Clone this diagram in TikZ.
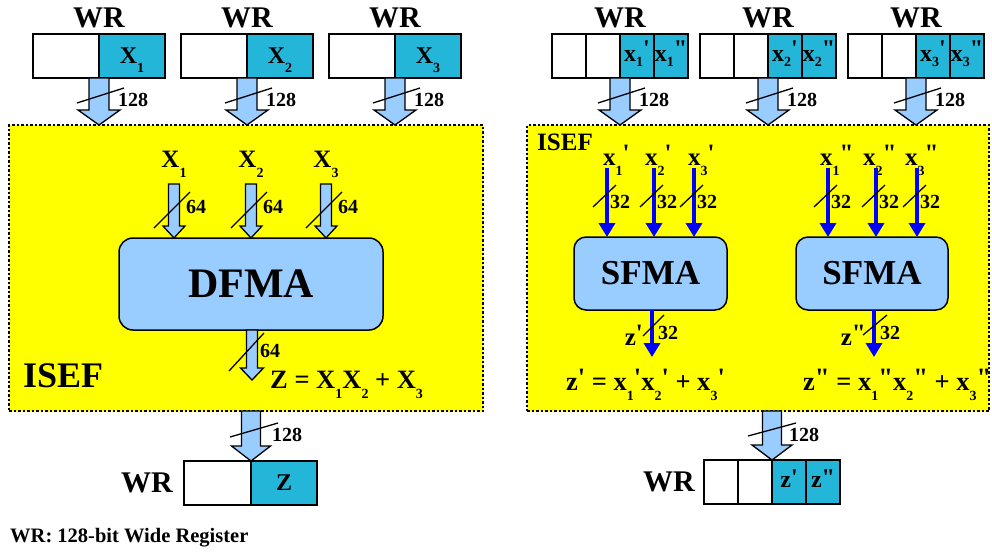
\documentclass[tikz,border=0pt]{standalone}
\usepackage{fontspec}
\setmainfont{Liberation Serif}
\usetikzlibrary{calc,arrows.meta}
\definecolor{wrcyan}{RGB}{35,182,217}
\definecolor{fab}{HTML}{99CCFF}
\definecolor{ysef}{HTML}{FFFF00}
\newcommand\fs[1]{\fontsize{#1}{#1}\selectfont\bfseries}
\newcommand\sbs[2][10]{\smash{\raisebox{-#1pt}{\fontsize{14}{14}\selectfont\bfseries #2}}}
\newcommand\pr[1][4]{\smash{\raisebox{#1pt}{\textquotesingle}}}
\newcommand\dpr[1][4]{\smash{\raisebox{#1pt}{\textquotedbl}}}
\newcommand\fatarrow[5]{%
  \filldraw[fatarr] let \p1=(#1), \p2=(#2) in
   (\x1-#3pt,\y1) -- (\x1+#3pt,\y1) -- (\x1+#3pt,\y2+#5pt) -- (\x1+#4pt,\y2+#5pt)
   -- (\x1,\y2) -- (\x1-#4pt,\y2+#5pt) -- (\x1-#3pt,\y2+#5pt) -- cycle;}
\newcommand\busmark[5]{%
  \draw[slash] ($(#1)+(#2)$) -- ($(#1)+(#3)$);
  \node[buslab] at ($(#1)+(#4)$) {#5};}
\begin{document}
\begin{tikzpicture}[x=1pt,y=-1pt,
  cell/.style={draw,line width=1.4pt,rectangle,minimum height=44pt,inner sep=0pt,outer sep=0pt,font=\fs{24}},
  cyancell/.style={cell,fill=wrcyan},
  wrlab/.style={font=\fs{30},inner sep=0pt},
  fatarr/.style={draw=black,fill=fab,line width=1.3pt,line join=miter},
  slash/.style={line width=1.3pt},
  buslab/.style={inner sep=0pt,anchor=base west,font=\fs{20}},
  isef/.style={draw,dash pattern=on 2.5pt off 2pt,line width=1.3pt,fill=ysef,inner sep=0pt,outer sep=0pt,minimum height=286pt},
  fma/.style={draw,line width=1.5pt,fill=fab,rounded corners=14pt,inner sep=0pt,outer sep=0pt},
  bluearr/.style={draw=blue,line width=4pt,-{Triangle[length=14pt,width=16pt]}},
  lab/.style={inner sep=0pt,font=\fs{25}},
  eqn/.style={inner sep=0pt,font=\fs{26.5},anchor=base west},
]
\path[use as bounding box,fill=white] (0,0) rectangle (992,552);

% ---------------- left half ----------------
\node[isef,minimum width=474pt] (isefL) at (246,268) {};

\node[cell,minimum width=66pt] (r1a) at (66,56) {};
\node[cyancell,minimum width=66pt] (r1b) at (132,56) {X\sbs[9]{1}};
\node[cell,minimum width=66pt] (r2a) at (214,56) {};
\node[cyancell,minimum width=66pt] (r2b) at (280,56) {X\sbs[9]{2}};
\node[cell,minimum width=66pt] (r3a) at (362,56) {};
\node[cyancell,minimum width=66pt] (r3b) at (428,56) {X\sbs[9]{3}};
\foreach \r in {r1a,r2a,r3a}{
  \node[wrlab,anchor=base] at ($(\r.north east)+(0,-7)$) {WR};
  \fatarrow{\r.south east}{\r.south east |- isefL.north}{10}{21}{15}
  \busmark{\r.south east}{-22,25}{25,10}{19,28}{128}
}

\node[fma,minimum width=264pt,minimum height=92pt,font=\fs{42}] (dfma) at (251,284) {DFMA};
\node[lab,anchor=base] (X1) at (174,167) {X\sbs{1}};
\node[lab,anchor=base] (X2) at (251,167) {X\sbs{2}};
\node[lab,anchor=base] (X3) at (326,167) {X\sbs{3}};
\foreach \lb in {X1,X2,X3}{
  \fatarrow{$(\lb.base)+(0,17)$}{\lb.base |- dfma.north}{5.5}{11}{12}
  \busmark{\lb.base}{-20,61}{16,25}{12,46}{64}
}
\coordinate (zend) at ($(dfma.south)+(1,50)$);
\fatarrow{zend |- dfma.south}{zend}{5.5}{11.5}{12}
\busmark{dfma.south}{-22,41}{13,3}{9,27}{64}
\node[eqn] (eqL) at (270,388) {Z = X\sbs{1}X\sbs{2} + X\sbs{3}};
\node[inner sep=0pt,anchor=base west,font=\fs{36}] (isefLlab) at (23,387) {ISEF};

\node[cell,minimum width=67pt] (zb1) at (217.5,483) {};
\node[cyancell,minimum width=66pt] (zb2) at (284,483) {Z};
\fatarrow{isefL.south -| zb1.north east}{zb1.north east}{9.5}{19.5}{15}
\busmark{zb1.north east}{-21,-24}{27,-38}{21,-20}{128}
\node[wrlab,anchor=east] at ($(zb1.west)+(-11,0)$) {WR};

\node[inner sep=0pt,anchor=base west,font=\fs{20.5}] (cap) at (10,542) {WR: 128-bit Wide Register};

% ---------------- right half ----------------
\node[isef,minimum width=462pt] (isefR) at (758,268) {};

\foreach \b/\s/\n in {552/p/1,700/q/2,848/s/3}{
  \node[cell,minimum width=34pt] (\s1) at (\b+17,56) {};
  \node[cell,minimum width=34pt] (\s2) at (\b+51,56) {};
  \node[cyancell,minimum width=34pt] (\s3) at (\b+85,56) {x\sbs[5]{\n}\pr[5]};
  \node[cyancell,minimum width=34pt] (\s4) at (\b+119,56) {x\sbs[5]{\n}\dpr[5]};
  \node[wrlab,anchor=base] at ($(\s2.north east)+(0,-7)$) {WR};
  \fatarrow{\s2.south east}{\s2.south east |- isefR.north}{10}{21}{15}
  \busmark{\s2.south east}{-22,25}{25,10}{19,28}{128}
}

\node[inner sep=0pt,anchor=base west,font=\fs{25}] (isefRlab) at (537,150) {ISEF};
\node[fma,minimum width=153pt,minimum height=73pt,font=\fs{35},rounded corners=12pt] (sfL) at (650.5,273.5) {SFMA};
\node[fma,minimum width=152pt,minimum height=73pt,font=\fs{35},rounded corners=12pt] (sfR) at (872,273.5) {SFMA};

\node[lab,anchor=base west] (y1) at (603,165) {x\sbs{1}\pr};
\node[lab,anchor=base west] (y2) at (645,165) {x\sbs{2}\pr};
\node[lab,anchor=base west] (y3) at (688,165) {x\sbs{3}\pr};
\node[lab,anchor=base west] (w1) at (820,165) {x\sbs{1}\dpr};
\node[lab,anchor=base west] (w2) at (863,165) {x\sbs{2}\dpr};
\node[lab,anchor=base west] (w3) at (905,165) {x\sbs{3}\dpr};

\coordinate (a1) at (607,168);
\coordinate (a2) at (654,168);
\coordinate (a3) at (694,168);
\coordinate (b1) at (828,168);
\coordinate (b2) at (876,168);
\coordinate (b3) at (917,168);
\foreach \c in {a1,a2,a3}{
  \draw[bluearr] (\c) -- (\c |- sfL.north);
  \busmark{\c}{-14,39}{9,17}{3,40}{32}
}
\foreach \c in {b1,b2,b3}{
  \draw[bluearr] (\c) -- (\c |- sfR.north);
  \busmark{\c}{-14,39}{9,17}{3,40}{32}
}

\coordinate (zo1) at (652,357);
\coordinate (zo2) at (874,357);
\draw[bluearr] (zo1 |- sfL.south) -- (zo1);
\draw[bluearr] (zo2 |- sfR.south) -- (zo2);
\busmark{zo1 |- sfL.south}{-9,26}{12,5}{6,29}{32}
\busmark{zo2 |- sfR.south}{-11,25}{13,5}{6,29}{32}
\node[lab,anchor=base east] (zp1) at (643,345) {z\pr};
\node[lab,anchor=base east] (zp2) at (866,345) {z\dpr};

\node[eqn] (eqR1) at (566,390) {z\pr{} = x\sbs{1}\pr x\sbs{2}\pr{} + x\sbs{3}\pr};
\node[eqn] (eqR2) at (803,390) {z\dpr{} = x\sbs{1}\dpr x\sbs{2}\dpr{} + x\sbs{3}\dpr};

\node[cell,minimum width=34pt] (o1) at (721,482) {};
\node[cell,minimum width=34pt] (o2) at (755,482) {};
\node[cyancell,minimum width=34pt] (o3) at (789,482) {z\pr[2]};
\node[cyancell,minimum width=34pt] (o4) at (823,482) {z\dpr[2]};
\fatarrow{isefR.south -| o2.north east}{o2.north east}{9.5}{20}{15}
\busmark{o2.north east}{-24,-24}{24,-37}{17,-19}{128}
\node[wrlab,anchor=east] at ($(o1.west)+(-9,0)$) {WR};
\end{tikzpicture}
\end{document}
